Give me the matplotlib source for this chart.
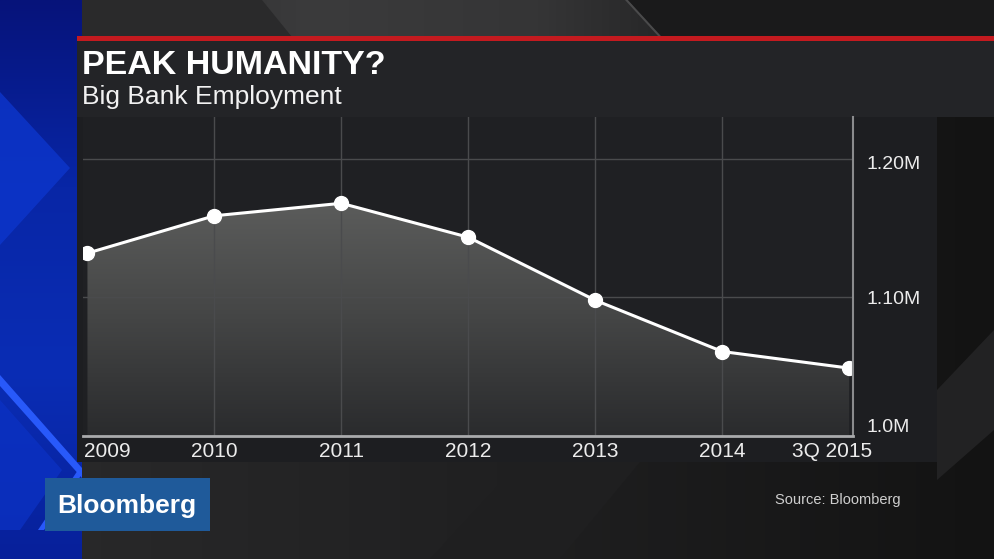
import numpy as np
import matplotlib
matplotlib.use("Agg")
import matplotlib.pyplot as plt
from matplotlib.patches import Polygon, Rectangle
from matplotlib.colors import LinearSegmentedColormap
import matplotlib.transforms as mtrans

# ---------------- data ----------------
categories = ["2009", "2010", "2011", "2012", "2013", "2014", "3Q 2015"]
employment_m = [1.132, 1.159, 1.168, 1.1435, 1.098, 1.061, 1.049]
y_ticks = [1.0, 1.1, 1.2]
y_tick_labels = ["1.0M", "1.10M", "1.20M"]
title = "PEAK HUMANITY?"
subtitle = "Big Bank Employment"
source = "Source: Bloomberg"

plt.rcParams['font.family'] = ['Liberation Sans', 'DejaVu Sans']

W, H = 994, 559
fig = plt.figure(figsize=(W / 100, H / 100), dpi=100)
fig.patch.set_facecolor('#19191a')

# ---------------- background decoration (pixel coords) ----------------
bg = fig.add_axes([0, 0, 1, 1])
bg.set_xlim(0, W)
bg.set_ylim(H, 0)
bg.axis('off')

grad = np.linspace(0, 1, 256)[None, :]
cm_bg = LinearSegmentedColormap.from_list('bg', ['#2a2a2b', '#202021', '#131313'])
bg.imshow(grad, extent=(0, W, H, 0), cmap=cm_bg, aspect='auto', zorder=0)

# subtle lighter diagonal shapes (top band)
cm_top = LinearSegmentedColormap.from_list('top', ['#2b2b2c', '#3b3b3c', '#353536', '#1c1c1d', '#121212'])
bg.imshow(np.linspace(0, 1, 256)[None, :], extent=(82, W, 37, 0), cmap=cm_top,
          aspect='auto', zorder=1)
bg.add_patch(Polygon([(82, 0), (262, 0), (292, 37), (82, 37)], closed=True,
                     color='#2a2a2b', zorder=1.5, lw=0))
bg.add_patch(Polygon([(625, 0), (628, 0), (662, 37), (659, 37)], closed=True,
                     color='#4a4a4b', zorder=1.5, lw=0))
bg.add_patch(Polygon([(628, 0), (W, 0), (W, 37), (662, 37)], closed=True,
                     color='#1a1a1b', zorder=1.5, lw=0))
# bottom / right
bg.add_patch(Polygon([(430, 559), (520, 462), (640, 462), (560, 559)], closed=True,
                     color='#1f1f20', zorder=1, lw=0))
bg.add_patch(Polygon([(937, 390), (994, 330), (994, 430), (937, 480)], closed=True,
                     color='#222223', zorder=1, lw=0))

# blue strip on the left
cm_blue = LinearSegmentedColormap.from_list('blue', ['#06137a', '#0826a6', '#0a2db5', '#07209a'])
bg.imshow(np.linspace(0, 1, 256)[:, None], extent=(0, 82, H, 0), cmap=cm_blue,
          aspect='auto', zorder=2)
bg.add_patch(Polygon([(0, 92), (70, 168), (0, 245)], closed=True, color='#0d36cc',
                     alpha=0.8, zorder=3, lw=0))
bg.add_patch(Polygon([(0, 400), (62, 470), (20, 530), (0, 530)], closed=True, color='#0b31c2',
                     alpha=0.8, zorder=3, lw=0))
bg.add_patch(Polygon([(0, 375), (82, 468), (82, 478), (0, 386)], closed=True, color='#2a5cff',
                     alpha=0.95, zorder=3, lw=0))
bg.add_patch(Polygon([(78, 470), (82, 474), (44, 530), (38, 530)], closed=True, color='#2a5cff',
                     alpha=0.95, zorder=3, lw=0))

# red rule and title box
bg.add_patch(Rectangle((77, 36), W - 77, 5, color='#c41a1f', zorder=4, lw=0))
bg.add_patch(Rectangle((77, 41), W - 77, 76, color='#232427', zorder=4, lw=0))
# chart panel
bg.add_patch(Rectangle((77, 117), 937 - 77, 345, color='#1d1e21', zorder=4, lw=0))

bg.text(82, 74, title, color='white', fontsize=24.5, fontweight='bold',
        va='baseline', ha='left', zorder=5)
bg.text(82, 104, subtitle, color='#f2f2f2', fontsize=19, va='baseline', ha='left', zorder=5)

# Bloomberg logo box
bg.add_patch(Rectangle((45, 478), 165, 53, color='#1f5a9a', zorder=5, lw=0))
bg.text(127, 506, "Bloomberg", color='white', fontsize=19, fontweight='bold',
        ha='center', va='center', zorder=6)

bg.text(901, 500, source, color='#cfcfcf', fontsize=10.5, ha='right', va='center', zorder=5)

# ---------------- main chart ----------------
left, right, top, bottom = 83, 853, 117, 436
ax = fig.add_axes([left / W, (H - bottom) / H, (right - left) / W, (bottom - top) / H])
ax.set_facecolor('#1f2023')

x = np.arange(len(categories))
ax.set_xlim(-0.035, 6.03)
ax.set_ylim(1.0, 1.2303)

# gradient fill under the line
poly = ax.fill_between(x, employment_m, 1.0, color='none', lw=0)
cm_fill = LinearSegmentedColormap.from_list('fill', ['#2a2b2d', '#454646', '#5d5e5d'])
img = ax.imshow(np.linspace(0, 1, 256)[:, None], extent=(-0.035, 6.03, 1.0, 1.175),
                origin='lower', cmap=cm_fill, aspect='auto', zorder=1)
clip = poly.get_paths()[0]
img.set_clip_path(clip, transform=ax.transData)

ax.plot(x, employment_m, color='white', lw=2.2, marker='o', markersize=10,
        markerfacecolor='white', markeredgecolor='white', zorder=4)

ax.set_xticks(x)
ax.set_xticklabels(categories)
ax.set_yticks(y_ticks)
ax.set_yticklabels(y_tick_labels)
ax.yaxis.tick_right()
ax.tick_params(axis='x', length=0, pad=4, labelsize=15, labelcolor='#ececec')
ax.tick_params(axis='y', length=0, pad=10, labelsize=14, labelcolor='#ececec')

ax.grid(True, color='#4a4b4d', lw=1, zorder=2)
ax.set_axisbelow(False)
for gl in ax.get_xgridlines() + ax.get_ygridlines():
    gl.set_zorder(2)
ax.get_xgridlines()[0].set_visible(False)
ax.get_xgridlines()[-1].set_visible(False)

for s in ['top', 'left']:
    ax.spines[s].set_visible(False)
ax.spines['bottom'].set_color('#a9aaac')
ax.spines['bottom'].set_linewidth(2)
ax.spines['right'].set_color('#8a8b8d')
ax.spines['right'].set_linewidth(1.5)
ax.spines['bottom'].set_zorder(5)
ax.spines['right'].set_zorder(5)

# label nudges
xl = ax.get_xticklabels()
xl[0].set_ha('left')
xl[0].set_transform(xl[0].get_transform() + mtrans.ScaledTranslation(-0.03, 0, fig.dpi_scale_trans))
xl[-1].set_transform(xl[-1].get_transform() + mtrans.ScaledTranslation(-0.17, 0, fig.dpi_scale_trans))
yl = ax.get_yticklabels()
yl[0].set_va('bottom')
yl[2].set_transform(yl[2].get_transform() + mtrans.ScaledTranslation(0, -0.04, fig.dpi_scale_trans))

fig.savefig('out.png', dpi=100, facecolor=fig.get_facecolor())
